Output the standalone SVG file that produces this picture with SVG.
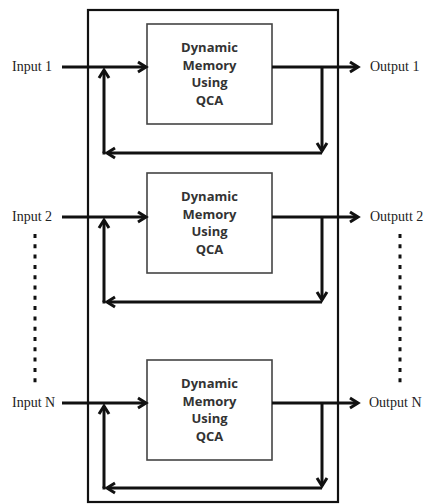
<svg xmlns="http://www.w3.org/2000/svg" width="429" height="504" viewBox="0 0 429 504">
<defs>
<marker id="arr" markerUnits="userSpaceOnUse" markerWidth="14" markerHeight="14" refX="8" refY="5" orient="auto" overflow="visible">
<path d="M0,0 L8,5 L0,10" fill="none" stroke="#111" stroke-width="3" stroke-linejoin="miter"/>
</marker>
<style>
.box{fill:#fff;stroke:#444;stroke-width:1.6}
.outer{fill:none;stroke:#111;stroke-width:2.2}
.lbl{font-family:"Open Sans","Liberation Sans",sans-serif;font-weight:bold;font-size:13px;fill:#333;text-anchor:middle}
.io{font-family:"Liberation Serif","Times New Roman",serif;font-size:14px;fill:#222}
.w{fill:none;stroke:#111;stroke-width:3;stroke-linecap:square}
.wa{fill:none;stroke:#111;stroke-width:3;stroke-linecap:butt;marker-end:url(#arr)}
.dot{fill:none;stroke:#111;stroke-width:3;stroke-dasharray:4 6.3}
</style>
</defs>
<rect id="container" class="outer" x="88" y="10" width="250" height="492"/>
<g id="node1">
<rect class="box" x="147" y="24" width="125" height="100"/>
<text class="lbl" x="209.5" y="52">Dynamic</text>
<text class="lbl" x="209.5" y="69.5">Memory</text>
<text class="lbl" x="209.5" y="87">Using</text>
<text class="lbl" x="209.5" y="104.5">QCA</text>
</g>
<g id="node2">
<rect class="box" x="147" y="173" width="125" height="100"/>
<text class="lbl" x="209.5" y="201">Dynamic</text>
<text class="lbl" x="209.5" y="218.5">Memory</text>
<text class="lbl" x="209.5" y="236">Using</text>
<text class="lbl" x="209.5" y="253.5">QCA</text>
</g>
<g id="node3">
<rect class="box" x="147" y="360" width="125" height="100"/>
<text class="lbl" x="209.5" y="388">Dynamic</text>
<text class="lbl" x="209.5" y="405.5">Memory</text>
<text class="lbl" x="209.5" y="423">Using</text>
<text class="lbl" x="209.5" y="440.5">QCA</text>
</g>
<g id="labels">
<text class="io" x="12" y="71">Input 1</text>
<text class="io" x="370" y="71">Output 1</text>
<text class="io" x="12" y="221">Input 2</text>
<text class="io" x="370" y="221">Outputt 2</text>
<text class="io" x="12" y="407">Input N</text>
<text class="io" x="369" y="407">Output N</text>
</g>
<g id="dots">
<path class="dot" d="M35,234 V386"/>
<path class="dot" d="M400,234 V386"/>
</g>
<g id="connectors">
<path class="wa" d="M62,67 H146"/>
<path class="wa" d="M272,67 H358"/>
<path class="wa" d="M322,67 V151"/>
<path class="wa" d="M322,153 H107"/>
<path class="w" d="M104,153 V153"/>
<path class="wa" d="M104,153 V70"/>

<path class="wa" d="M62,217 H146"/>
<path class="wa" d="M272,217 H358"/>
<path class="wa" d="M322,217 V300"/>
<path class="wa" d="M322,302 H107"/>
<path class="w" d="M104,302 V302"/>
<path class="wa" d="M104,302 V220"/>

<path class="wa" d="M62,403 H146"/>
<path class="wa" d="M272,403 H358"/>
<path class="wa" d="M322,403 V486"/>
<path class="wa" d="M322,488 H107"/>
<path class="w" d="M104,488 V488"/>
<path class="wa" d="M104,488 V406"/>
</g>
</svg>
